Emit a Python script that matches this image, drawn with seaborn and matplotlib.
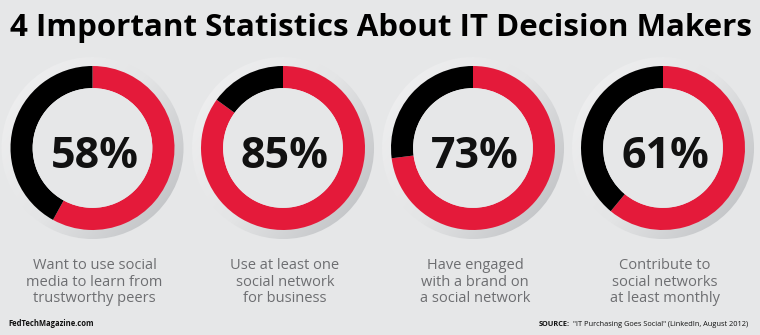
import numpy as np
import matplotlib
matplotlib.use("Agg")
import matplotlib.pyplot as plt
from matplotlib.patches import Circle
from matplotlib.colors import LinearSegmentedColormap
import seaborn as sns

# ---------------- data ----------------
title = "4 Important Statistics About IT Decision Makers"
percentages = [58, 85, 73, 61]
captions = [
    "Want to use social\nmedia to learn from\ntrustworthy peers",
    "Use at least one\nsocial network\nfor business",
    "Have engaged\nwith a brand on\na social network",
    "Contribute to\nsocial networks\nat least monthly",
]
footer_left = "FedTechMagazine.com"
source_label = "SOURCE:"
source_text = "\"IT Purchasing Goes Social\" (LinkedIn, August 2012)"

# ---------------- style ----------------
BG = "#e6e7e8"
RED = "#e41a3a"
BLACK = "#000000"
GREY = "#6d6e71"

sns.set_theme(style="white", rc={"figure.facecolor": BG, "axes.facecolor": "none"})
plt.rcParams['font.family'] = ['Open Sans', 'DejaVu Sans']

W, H = 760, 335
fig = plt.figure(figsize=(7.6, 3.35), dpi=100)
fig.patch.set_facecolor(BG)
renderer = fig.canvas.get_renderer()


def fx(x):
    return x / W


def fy(y):
    return 1 - y / H


def fit(t, target):
    for _ in range(3):
        w = t.get_window_extent(renderer).width
        t.set_fontsize(t.get_fontsize() * target / w)


centers = [92.5, 283, 473, 663]
cy = 148
R = 82
half = 1.18

shade = LinearSegmentedColormap.from_list("shade", ["#f1f1f2", "#e4e5e6", "#b9bbbe"])
gx, gy = np.meshgrid(np.linspace(-1, 1, 200), np.linspace(1, -1, 200))
grad = (gx * 0.8 - gy * 0.6)

for cx, p, cap in zip(centers, percentages, captions):
    ax = fig.add_axes([(cx - half * R) / W, (H - cy - half * R) / H,
                       2 * half * R / W, 2 * half * R / H])
    ax.pie([p, 100 - p], colors=[RED, BLACK], startangle=90, counterclock=False,
           radius=1.0, wedgeprops=dict(width=0.27, edgecolor='none', linewidth=0))
    im = ax.imshow(grad, extent=[-1.11, 1.11, -1.11, 1.11], cmap=shade, zorder=0,
                   interpolation='bilinear')
    im.set_clip_path(Circle((0, 0), 1.11, transform=ax.transData))
    ax.add_patch(Circle((0, 0), 0.73, fc=BG, ec='none', zorder=2))
    ax.set_xlim(-half, half)
    ax.set_ylim(-half, half)
    ax.set_aspect('equal')
    ax.axis('off')

    fig.text(fx(cx + 2), fy(168), f"{p}%", ha='center', va='baseline',
             fontsize=31, fontweight='bold', color='#111111')
    fig.text(fx(cx + 2), fy(282), cap, ha='center', va='center', fontsize=10.5,
             color=GREY, linespacing=1.12)

t = fig.text(fx(10), fy(36), title, ha='left', va='baseline', fontsize=21,
             fontweight='bold', color='#000000')
fit(t, 742)

fl = fig.text(fx(8), fy(326), footer_left, ha='left', va='baseline', fontsize=7,
              fontweight='bold', color='#111111')
fit(fl, 85)

st = fig.text(fx(748), fy(326), source_text, ha='right', va='baseline', fontsize=6.5,
              color='#111111')
fit(st, 176)
sw = st.get_window_extent(renderer).width
sl = fig.text(fx(748 - sw - 3), fy(326), source_label, ha='right', va='baseline',
              fontsize=st.get_fontsize(), fontweight='bold', color='#111111')

fig.savefig("out.png", dpi=100, facecolor=BG)
